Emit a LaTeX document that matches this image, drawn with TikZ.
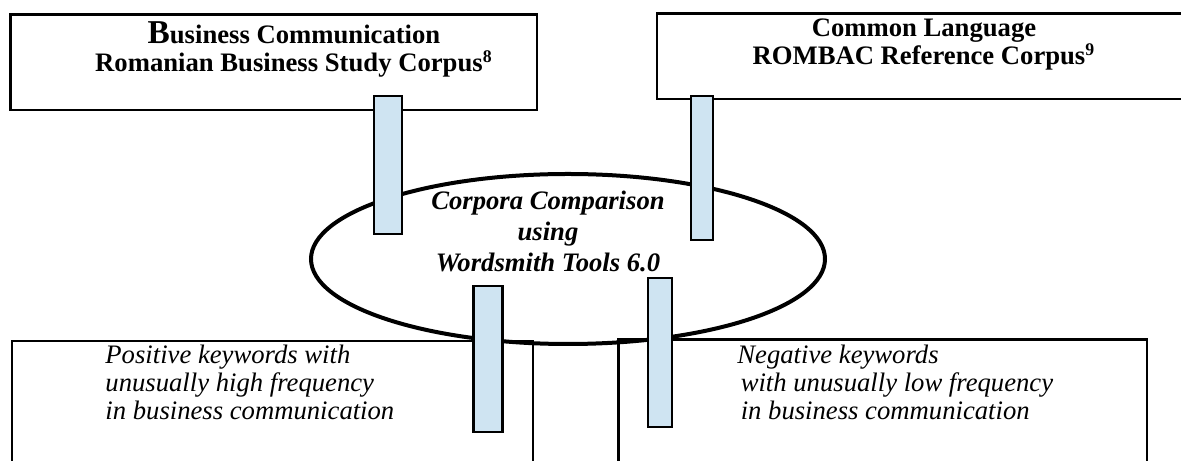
\documentclass[tikz,border=0pt]{standalone}
\usepackage{fontspec}
\setmainfont{Liberation Serif}
\usetikzlibrary{shapes.geometric}
\definecolor{barblue}{RGB}{207,228,242}
\newdimen\pxu \pxu=0.45pt
\tikzset{
  corpusbox/.style={draw, line width=1.3pt, inner sep=0pt, outer sep=0pt, anchor=north west},
  linkbar/.style={draw, fill=barblue, line width=1.3pt, inner sep=0pt, outer sep=0pt, anchor=north west},
  headtext/.style={align=center, inner sep=0pt, font=\bfseries\fontsize{12}{13}\selectfont},
  cmptext/.style={align=center, inner sep=0pt, font=\bfseries\itshape\fontsize{12}{14}\selectfont},
  kwtext/.style={align=left, inner sep=0pt, font=\itshape\fontsize{12}{12.6}\selectfont}
}
\begin{document}
\begin{tikzpicture}[x=0.45pt, y=-0.45pt]
\useasboundingbox (0,0) rectangle (1181,461);
\clip (0,0) rectangle (1181,461);
\node[corpusbox, minimum width=526.5\pxu, minimum height=95.7\pxu] (bizbox) at (10.5,14.3) {};
\node[corpusbox, minimum width=560\pxu, minimum height=85.7\pxu] (combox) at (657,13.3) {};
\node[corpusbox, minimum width=521\pxu, minimum height=150\pxu] (posbox) at (12,341) {};
\node[corpusbox, minimum width=528.5\pxu, minimum height=150\pxu] (negbox) at (618.5,339.5) {};
\node[ellipse, draw, line width=1.8pt, inner sep=0pt, minimum width=514\pxu, minimum height=170\pxu] (cmp) at (568,259) {};
\node[headtext, anchor=base] (biztitle) at (294,72) {{\fontsize{15}{15}\selectfont B}usiness Communication\\Romanian Business Study Corpus\textsuperscript{8}};
\node[headtext, anchor=base] (comtitle) at (924,65) {Common Language\\ROMBAC Reference Corpus\textsuperscript{9}};
\node[cmptext, anchor=base] (cmptitle) at (548,272) {Corpora Comparison\\using\\Wordsmith Tools 6.0};
\node[kwtext, anchor=base west] (poskw) at (105,420) {Positive keywords with\\unusually high frequency\\in business communication};
\node[kwtext, anchor=base west] (negkw) at (737,420) {Negative keywords\\\hspace{1.5pt}with unusually low frequency\\\hspace{1.5pt}in business communication};
\node[linkbar, minimum width=28\pxu, minimum height=138\pxu] (barA) at (374,96) {};
\node[linkbar, minimum width=22\pxu, minimum height=144\pxu] (barB) at (691,96) {};
\node[linkbar, minimum width=29\pxu, minimum height=146\pxu] (barC) at (473.5,286) {};
\node[linkbar, minimum width=24\pxu, minimum height=149\pxu] (barD) at (648,278) {};
\end{tikzpicture}
\end{document}
